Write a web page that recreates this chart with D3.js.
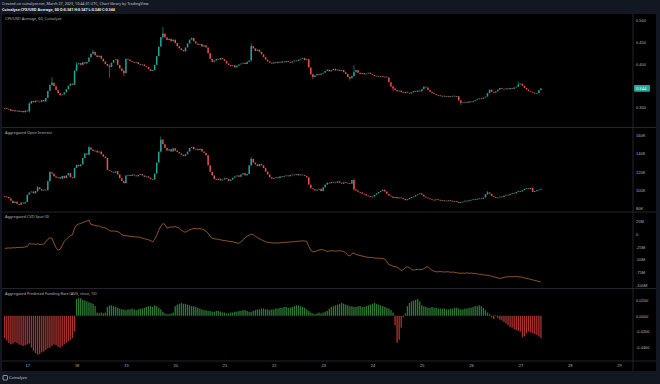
<!DOCTYPE html>
<html>
<head>
<meta charset="utf-8">
<script src="https://cdn.jsdelivr.net/npm/d3@7.9.0/dist/d3.min.js"></script>
<style>
  html, body { margin: 0; padding: 0; background: #131722; }
  svg { display: block; font-family: "Noto Sans", "DejaVu Sans", sans-serif; }
  .axis text { fill: #b2b5be; font-size: 4px; }
</style>
</head>
<body>
<svg id="chart" width="660" height="384"></svg>
<script>
// hourly bars, first one at Mar 16 13:00 UTC
const firstBar = Date.UTC(2023, 2, 16, 13);

const priceOpen0 = 0.298;
const priceClose = [
  0.299, 0.297, 0.296, 0.292, 0.294, 0.291, 0.293, 0.290, 0.292, 0.289, 0.293, 0.291, 0.309,
  0.315, 0.312, 0.316, 0.314, 0.313, 0.317, 0.314,
  0.322, 0.338, 0.352, 0.357,
  0.349, 0.340, 0.333, 0.328, 0.330,
  0.335, 0.342, 0.350, 0.355, 0.352,
  0.385, 0.399,
  0.402, 0.398, 0.404, 0.401, 0.405,
  0.415, 0.424, 0.428,
  0.420, 0.416, 0.419,
  0.412, 0.406, 0.400, 0.396, 0.393,
  0.403, 0.409, 0.411,
  0.398, 0.390, 0.384, 0.379,
  0.412, 0.410,
  0.407, 0.405, 0.403, 0.404, 0.400, 0.398, 0.399, 0.395, 0.393,
  0.388, 0.384, 0.386,
  0.398, 0.418, 0.440, 0.462, 0.470, 0.461,
  0.455, 0.458, 0.452, 0.456,
  0.448, 0.441, 0.436, 0.432, 0.429,
  0.438, 0.447, 0.456, 0.460,
  0.452, 0.447, 0.444, 0.446, 0.440, 0.443, 0.438,
  0.425, 0.412, 0.405,
  0.408, 0.412, 0.410, 0.414,
  0.411, 0.407, 0.401,
  0.398, 0.395, 0.397, 0.392, 0.396, 0.399,
  0.401, 0.403, 0.400, 0.405, 0.408,
  0.441,
  0.436, 0.430, 0.433, 0.428,
  0.422, 0.416, 0.410, 0.406, 0.403, 0.401,
  0.404, 0.402, 0.405, 0.403, 0.406, 0.404, 0.407, 0.405, 0.403, 0.406, 0.408, 0.407, 0.410, 0.412, 0.414, 0.409, 0.411,
  0.392, 0.376, 0.370,
  0.374, 0.377, 0.375, 0.378, 0.380,
  0.384, 0.387, 0.383, 0.386, 0.389, 0.385, 0.387, 0.384, 0.386, 0.381, 0.377,
  0.370, 0.367, 0.372,
  0.381, 0.386,
  0.380, 0.377, 0.379, 0.376, 0.378, 0.380, 0.377, 0.375,
  0.372, 0.373, 0.371, 0.372, 0.370, 0.371, 0.369,
  0.358, 0.348, 0.344,
  0.340, 0.337, 0.339, 0.335, 0.333, 0.336, 0.334, 0.332, 0.335, 0.338, 0.336, 0.339, 0.337,
  0.342, 0.348, 0.346,
  0.340, 0.336, 0.333, 0.331, 0.329, 0.328,
  0.326, 0.327, 0.325, 0.326, 0.324, 0.326, 0.327, 0.325, 0.326,
  0.316, 0.311,
  0.312, 0.313, 0.311, 0.314, 0.313, 0.315,
  0.317, 0.319, 0.321, 0.320, 0.323, 0.325,
  0.333, 0.341,
  0.336, 0.334, 0.337,
  0.341, 0.345, 0.343,
  0.342, 0.344, 0.342, 0.345, 0.343, 0.346, 0.348,
  0.353, 0.355,
  0.350, 0.345, 0.341, 0.338, 0.336,
  0.334, 0.332, 0.333,
  0.340, 0.344
];
// [bar index, high, low] for the wicks that stick out
const priceWicks = [
  [12, 0.312, 0.288], [23, 0.370, 0.350], [35, 0.405, 0.383], [43, 0.433, 0.422],
  [51, 0.399, 0.368], [58, 0.386, 0.372], [77, 0.485, 0.458], [120, 0.448, 0.406],
  [150, 0.377, 0.365], [168, 0.370, 0.362], [170, 0.398, 0.380], [189, 0.350, 0.338],
  [222, 0.317, 0.306], [250, 0.359, 0.347]
];

const oiOpen0 = 93.5;
const oiClose = [
  93.0, 92.5, 91.0,
  88.5, 86.0, 87.5, 85.0, 84.0, 86.5, 85.5, 87.0,
  95.0, 97.5, 98.5, 96.5, 99.0, 103.0, 101.0, 99.5,
  100.5, 100.0,
  110.0, 119.5, 118.0,
  115.0, 113.5, 114.0, 112.5, 115.5, 113.0, 116.0, 118.5, 114.0, 113.0,
  124.0, 127.5, 126.0, 128.0,
  135.0, 140.0, 138.5, 146.5,
  144.0, 142.5, 143.0, 141.0, 142.0,
  139.0, 136.5, 135.0, 122.0,
  121.0, 120.0, 119.0, 120.5, 117.0,
  113.0, 110.0, 107.5,
  116.0, 116.5, 115.5, 117.0, 116.0, 115.0, 116.5, 117.5, 116.0, 114.5, 115.0, 113.5, 112.0, 111.5,
  118.0, 130.0, 142.0, 155.0, 150.0,
  146.0, 143.0,
  144.5, 142.0, 145.5, 143.0, 141.5, 140.0, 138.5, 137.0, 139.0, 142.0, 146.0, 147.0, 144.5, 145.0, 143.5, 145.0, 142.0, 140.5, 138.0,
  127.0, 120.0, 116.0,
  112.0, 111.0, 112.5, 110.5, 111.5, 113.0, 112.0, 110.0, 111.5, 113.5,
  115.0, 116.0, 114.5, 117.0, 118.5, 116.0, 117.5,
  127.0, 134.0,
  130.0, 128.0, 126.0, 128.5, 127.0, 124.0,
  120.0, 117.0, 114.0, 112.5, 113.0,
  114.0, 113.0, 115.0, 114.5, 115.5, 116.0, 115.0, 116.5, 117.0, 116.5, 117.5, 116.0, 117.0, 116.5, 115.5, 114.0,
  106.0, 102.0, 101.0,
  99.5, 100.5, 101.5, 99.0, 103.0,
  106.0, 108.0, 107.5, 109.0, 108.5, 108.0, 109.5, 108.0, 107.0, 108.5, 108.0, 107.5, 107.0,
  111.0, 101.0,
  99.5, 98.0, 97.5, 96.0, 95.5, 94.0, 93.5, 92.5, 93.0,
  95.0, 96.5, 98.0, 99.0, 100.5, 98.5, 96.0,
  94.0, 93.0, 91.5, 92.5, 91.0, 92.0, 91.5, 90.5, 89.0, 90.0,
  91.5, 92.5, 93.0, 94.5, 95.5, 96.5, 95.0, 93.0, 92.0, 91.0, 90.0,
  89.5, 89.0, 90.0, 89.5, 88.5, 89.0, 88.5, 88.0, 89.0, 88.5, 87.5, 88.0, 87.0,
  86.5, 87.0, 87.5, 88.5, 88.0, 89.0, 89.5, 90.0, 89.5, 90.5, 91.0, 90.5, 92.0,
  95.5, 97.5, 96.0,
  93.5, 92.5, 91.5, 92.0, 93.0, 92.5, 94.0,
  95.0, 94.5, 96.0, 97.0, 96.5, 98.0, 99.0, 98.5, 100.0, 101.5, 102.0, 101.0, 102.5,
  98.0, 99.0, 100.0, 100.5, 101.5
];
const oiWicks = [
  [16, 104.5, 98.0], [22, 121.0, 109.0], [41, 148.0, 138.0], [76, 158.5, 141.0],
  [120, 136.0, 126.0], [170, 112.5, 99.0], [235, 99.0, 95.0]
];

// CVD spot, millions
const cvd = [
  -28, -27.5, -27, -27.5, -26.5, -27, -26, -26.5, -25.5, -26, -25, -24.5,
  -18, -19.5, -19, -20, -19, -20.5, -20, -19.5,
  -15, -10, -7, -8,
  -18, -27, -31, -30,
  -22, -14, -10, -6, -3, -1,
  12, 18, 20, 21,
  23, 24.5, 26, 27.5,
  19, 18.5, 17, 16, 16.5, 14, 13, 12.5, 10,
  7, 6, 6.5, 5.5, 5, 3,
  -1, -2.5, -3, -3.5, -4, -4.5, -5, -5.5, -5.5, -6.5,
  -8, -9, -10, -11, -12.5, -15,
  -10, -2, 8, 16, 21, 19,
  12, 13, 14.5, 14, 15, 13.5, 12,
  8, 5, 4, 6,
  9, 10, 11.5, 11, 10.5, 11, 10, 8.5,
  6, 2, -4, -8,
  -9, -9.5, -10, -11, -12, -12.5, -13, -14, -14.5, -15, -16, -17, -18,
  -15, -11, -7, -4, -2, 0, -1,
  -4, -7, -9, -11, -13, -15,
  -16, -16.5, -17, -17.5, -17, -17.5, -17,
  -16.5, -16, -16, -15.5, -15.5, -15, -14.5, -14, -14, -13.5, -13, -13.5, -14,
  -24, -32, -35,
  -34, -33, -31, -30, -31, -32, -34,
  -33, -32.5, -33, -33.5, -33, -32.5, -33, -34,
  -37, -41, -43,
  -38, -37,
  -40, -41, -42, -43, -44, -45, -45.5, -46, -46, -47, -47, -47.5, -47.5, -48,
  -49, -54, -60, -61,
  -63, -64, -65,
  -68, -71, -70,
  -66, -64, -66,
  -70, -70.5, -70, -69, -70, -69.5, -68,
  -65, -64,
  -68, -71, -73, -74, -74, -73.5, -74, -74.5, -74, -74, -75, -74.5, -75, -76,
  -76.5, -77, -76.5, -77, -76, -77, -76.5, -77, -77.5, -78,
  -79, -79, -80, -80.5, -81, -81,
  -83, -84, -85, -86, -87, -86.5, -85,
  -84, -84, -83.5, -84, -83, -83.5, -84, -84, -85,
  -86, -87, -88, -89, -90, -91, -92, -93, -94
];

// predicted funding rate
const funding = [
  -0.028, -0.031, -0.034, -0.036, -0.035, -0.033, -0.034, -0.036, -0.037, -0.038, -0.037, -0.036,
  -0.035, -0.040, -0.044, -0.047, -0.049, -0.048, -0.046, -0.045, -0.043, -0.041, -0.040, -0.038,
  -0.036, -0.037, -0.039, -0.040, -0.038, -0.036, -0.034, -0.032, -0.030, -0.028, -0.020,
  0.021, 0.022, 0.022, 0.020, 0.019, 0.018, 0.017, 0.016, 0.015, 0.012,
  0.004, 0.003, 0.004, 0.003, 0.004,
  0.011, 0.013, 0.013, 0.012, 0.011, 0.010, 0.009, 0.008, 0.008, 0.007, 0.008,
  0.008, 0.009, 0.008, 0.007, 0.008, 0.009, 0.009, 0.010, 0.011, 0.012, 0.012, 0.011,
  0.013, 0.012, 0.010, 0.008, 0.005, 0.003,
  0.002, 0.002, 0.003, 0.004,
  0.012, 0.014, 0.015, 0.016, 0.015, 0.015, 0.014, 0.013, 0.012, 0.012, 0.011, 0.010, 0.009,
  0.008, 0.007, 0.007, 0.006, 0.006, 0.005, 0.005, 0.006, 0.006, 0.005, 0.004, 0.004, 0.003,
  0.003, 0.004, 0.004, 0.005, 0.005, 0.006, 0.006, 0.007, 0.007, 0.006, 0.005, 0.005, 0.006,
  0.007, 0.008, 0.008, 0.009, 0.009, 0.008, 0.008, 0.007, 0.008, 0.008, 0.009, 0.009, 0.010, 0.010,
  0.011, 0.011, 0.010, 0.010, 0.011, 0.012, 0.013, 0.013, 0.012, 0.011, 0.010, 0.008, 0.006, 0.004,
  0.003, 0.002, 0.003, 0.004, 0.003, 0.004, 0.005, 0.006,
  0.009, 0.011, 0.012, 0.013, 0.014, 0.015, 0.016, 0.015, 0.014, 0.013, 0.012, 0.012, 0.011, 0.011,
  0.012, 0.012, 0.011, 0.011, 0.012, 0.013, 0.014, 0.015, 0.016, 0.015, 0.014, 0.013, 0.012, 0.011,
  0.010, 0.009, 0.007, 0.004,
  -0.012, -0.034, -0.030, -0.015,
  -0.002, 0.003,
  0.012, 0.016, 0.018, 0.019, 0.020, 0.021, 0.018,
  0.013, 0.012, 0.011, 0.010, 0.010, 0.011, 0.010, 0.010, 0.009, 0.009,
  0.009, 0.009, 0.008, 0.008, 0.009, 0.009, 0.010, 0.010, 0.009, 0.008, 0.008, 0.009, 0.009, 0.010,
  0.010, 0.011, 0.012, 0.012, 0.013, 0.012, 0.010, 0.007, 0.004,
  0.002, -0.002, -0.004, 0.001, -0.003, -0.005, -0.006,
  -0.008, -0.010, -0.012, -0.014, -0.015, -0.017, -0.018, -0.019, -0.020,
  -0.027, -0.026, -0.022, -0.020, -0.021, -0.022, -0.023, -0.024, -0.026, -0.028
];

const dayTicks = [17, 18, 19, 20, 21, 22, 23, 24, 25, 26, 27, 28, 29];
const priceTicks = [0.300, 0.400, 0.450, 0.500];
const oiTicks = [80, 100, 120, 140, 160];
const cvdTicks = [-100, -75, -50, -25, 0, 25];
const fundTicks = [-0.04, -0.02, 0, 0.02];
const lastPrice = 0.344;

const headerLine1 = 'Created on coinalyze.net, March 27, 2023, 10:44:31 UTC, Chart library by TradingView';
const headerLine2 = 'Coinalyze:CFX/USD Average, 60 O:0.341 H:0.347 L:0.340 C:0.344';
const paneTitles = [
  'CFX/USD Average, 60, Coinalyze',
  'Aggregated Open Interest',
  'Aggregated CVD Spot (0)',
  'Aggregated Predicted Funding Rate (AVG, close, 10)'
];

// ---- layout
const W = 660, H = 384;
const plotLeft = 2, plotRight = 633, frameRight = 656;
const panes = [
  { top: 14, bottom: 127.5 },
  { top: 127.5, bottom: 212 },
  { top: 212, bottom: 288.5 },
  { top: 288.5, bottom: 361 }
];
const axisBottomY = 361, footerTop = 371;

const UP = '#26a69a', DOWN = '#ef5350';
const GRID = '#2a2e39';

const svg = d3.select('#chart');

const barTime = (i) => new Date(firstBar + i * 3600e3);

const x = d3.scaleUtc()
  .domain([new Date(Date.UTC(2023, 2, 17)), new Date(Date.UTC(2023, 2, 29))])
  .range([27.3, 619]);

const yPrice = d3.scaleLinear().domain([0.300, 0.500]).range([107.5, 20.5]);
const yOI = d3.scaleLinear().domain([80, 160]).range([208.5, 135]);
const yCVD = d3.scaleLinear().domain([-100, 25]).range([285, 221.5]);
const yFund = d3.scaleLinear().domain([-0.04, 0.02]).range([347.6, 299.8]);

// background
svg.append('rect').attr('width', W).attr('height', H).attr('fill', '#131722');
svg.append('rect')
  .attr('x', plotLeft).attr('y', panes[0].top)
  .attr('width', frameRight - plotLeft).attr('height', footerTop - panes[0].top)
  .attr('fill', '#000');

// header
svg.append('text').attr('x', 2).attr('y', 5.2)
  .attr('fill', '#c8cad0').attr('font-size', 3.7).text(headerLine1);
svg.append('text').attr('x', 2).attr('y', 11)
  .attr('fill', '#e6e7ea').attr('font-size', 3.7).attr('font-weight', 'bold').text(headerLine2);

const clip = svg.append('defs').append('clipPath').attr('id', 'plotclip');
clip.append('rect').attr('x', plotLeft).attr('y', panes[0].top)
  .attr('width', plotRight - plotLeft).attr('height', axisBottomY - panes[0].top);

const plot = svg.append('g').attr('clip-path', 'url(#plotclip)');

function makeCandles(closes, open0, wicks) {
  const wickMap = new Map(wicks.map(([i, h, l]) => [i, { h, l }]));
  return closes.map((c, i) => {
    const o = i === 0 ? open0 : closes[i - 1];
    const w = wickMap.get(i);
    return {
      t: barTime(i), o, c,
      h: w ? Math.max(w.h, o, c) : Math.max(o, c),
      l: w ? Math.min(w.l, o, c) : Math.min(o, c)
    };
  });
}

function drawCandles(data, y) {
  const g = plot.append('g');
  g.selectAll('line')
    .data(data.filter(d => d.h > Math.max(d.o, d.c) || d.l < Math.min(d.o, d.c)))
    .join('line')
    .attr('x1', d => x(d.t)).attr('x2', d => x(d.t))
    .attr('y1', d => y(d.h)).attr('y2', d => y(d.l))
    .attr('stroke', d => d.c >= d.o ? UP : DOWN)
    .attr('stroke-width', 0.6);
  g.selectAll('rect')
    .data(data)
    .join('rect')
    .attr('x', d => x(d.t) - 0.75)
    .attr('width', 1.5)
    .attr('y', d => Math.min(y(d.o), y(d.c)))
    .attr('height', d => Math.max(0.8, Math.abs(y(d.o) - y(d.c))))
    .attr('fill', d => d.c >= d.o ? UP : DOWN);
}

drawCandles(makeCandles(priceClose, priceOpen0, priceWicks), yPrice);
drawCandles(makeCandles(oiClose, oiOpen0, oiWicks), yOI);

// CVD line
plot.append('path')
  .datum(cvd.map((v, i) => ({ t: barTime(i), v })))
  .attr('fill', 'none')
  .attr('stroke', '#c47a3a')
  .attr('stroke-width', 0.7)
  .attr('d', d3.line().x(d => x(d.t)).y(d => yCVD(d.v)));

// funding histogram
plot.append('g').selectAll('rect')
  .data(funding.map((v, i) => ({ t: barTime(i), v })))
  .join('rect')
  .attr('x', d => x(d.t) - 0.65)
  .attr('width', 1.3)
  .attr('y', d => Math.min(yFund(0), yFund(d.v)))
  .attr('height', d => Math.abs(yFund(d.v) - yFund(0)))
  .attr('fill', d => d.v >= 0 ? '#2e7a34' : '#a83431');

// pane separators and price-scale border
panes.slice(1).forEach(p => {
  svg.append('line').attr('x1', plotLeft).attr('x2', frameRight)
    .attr('y1', p.top).attr('y2', p.top).attr('stroke', GRID).attr('stroke-width', 0.8);
});
svg.append('line').attr('x1', plotLeft).attr('x2', frameRight)
  .attr('y1', axisBottomY).attr('y2', axisBottomY).attr('stroke', GRID).attr('stroke-width', 0.8);
svg.append('line').attr('x1', plotRight).attr('x2', plotRight)
  .attr('y1', panes[0].top).attr('y2', footerTop).attr('stroke', GRID).attr('stroke-width', 0.8);

// pane titles
paneTitles.forEach((t, i) => {
  svg.append('text').attr('x', 5).attr('y', panes[i].top + 6.2)
    .attr('fill', '#b2b5be').attr('font-size', 3.8).text(t);
});

// right axes
function rightAxis(scale, ticks, fmt) {
  svg.append('g').attr('class', 'axis')
    .attr('transform', `translate(${plotRight},0)`)
    .call(d3.axisRight(scale).tickValues(ticks).tickFormat(fmt).tickSize(0).tickPadding(3))
    .call(g => g.select('.domain').remove());
}
rightAxis(yPrice, priceTicks, d3.format('.3f'));
rightAxis(yOI, oiTicks, d => d + 'K');
rightAxis(yCVD, cvdTicks, d => d === 0 ? '0' : d + 'M');
rightAxis(yFund, fundTicks, d => d.toFixed(4));

// last price label
svg.append('rect')
  .attr('x', plotRight + 1).attr('y', yPrice(lastPrice) - 3.3)
  .attr('width', 16).attr('height', 6.6).attr('rx', 0.8)
  .attr('fill', UP);
svg.append('text')
  .attr('x', plotRight + 3).attr('y', yPrice(lastPrice) + 1.4)
  .attr('fill', '#fff').attr('font-size', 4).text(lastPrice.toFixed(3));

// time axis
svg.append('g').attr('class', 'axis')
  .attr('transform', `translate(0,${axisBottomY})`)
  .call(d3.axisBottom(x)
    .tickValues(dayTicks.map(d => new Date(Date.UTC(2023, 2, d))))
    .tickFormat(d => d.getUTCDate())
    .tickSize(0).tickPadding(3))
  .call(g => g.select('.domain').remove());

// footer logo
const logo = svg.append('g').attr('transform', `translate(3,${footerTop + 4.5})`);
logo.append('rect').attr('width', 4.5).attr('height', 4.5).attr('rx', 0.8)
  .attr('fill', 'none').attr('stroke', '#c8cad0').attr('stroke-width', 0.7);
logo.append('text').attr('x', 6).attr('y', 3.7)
  .attr('fill', '#c8cad0').attr('font-size', 4).text('Coinalyze');
</script>
</body>
</html>
